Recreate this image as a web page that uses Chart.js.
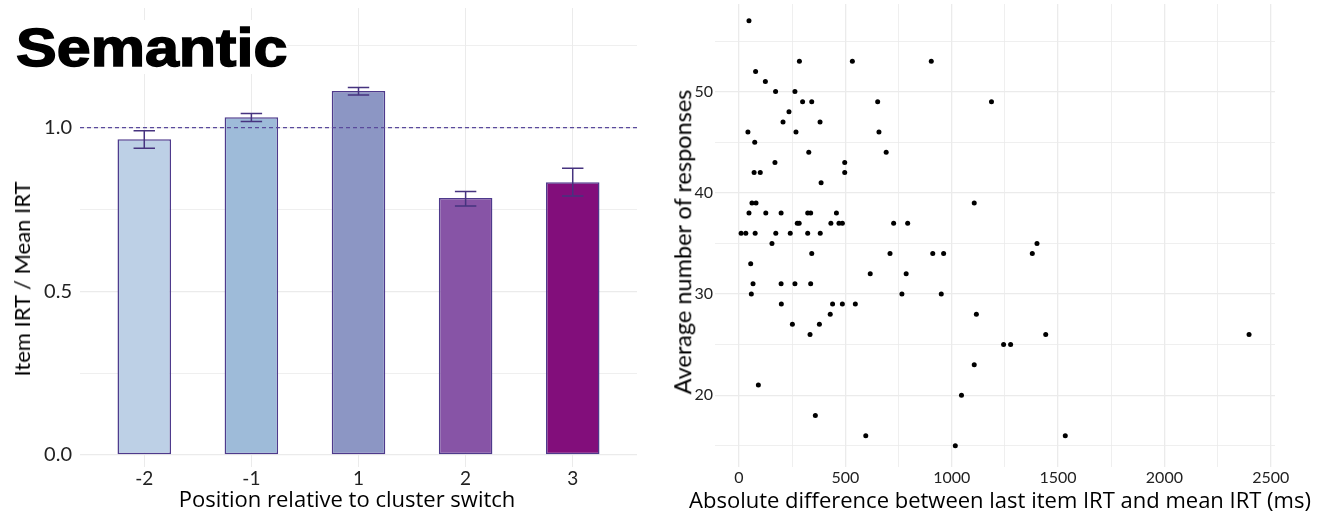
<!DOCTYPE html>
<html>
<head>
<meta charset="utf-8">
<script src="https://cdn.jsdelivr.net/npm/chart.js@4"></script>
<style>
  html, body { margin: 0; padding: 0; background: #fff; }
  #wrap { position: relative; width: 1328px; height: 518px; overflow: hidden; background: #fff; }
  canvas { position: absolute; top: 0; }
  .txt { position: absolute; font-family: Lato, "Open Sans", sans-serif; color: #000; white-space: nowrap; }
  #panelTitle {
    left: 16px; top: 20px; font-family: "Liberation Sans", Arial, sans-serif; font-weight: bold;
    font-size: 54px; line-height: 54px; color: #000; background: #fff;
    -webkit-text-stroke: 1.5px #000; transform: scaleX(1.13); transform-origin: 0 0;
  }
  .ytitle { transform: translate(-50%, -50%) rotate(-90deg); line-height: 1; }
  .xtitle { transform: translateX(-50%); font-family: "Open Sans", Lato, sans-serif; }
</style>
</head>
<body>
<div id="wrap">
  <canvas id="barChart" width="660" height="518" style="left:0"></canvas>
  <canvas id="scatterChart" width="668" height="518" style="left:660px"></canvas>
  <div id="panelTitle" class="txt">Semantic</div>
  <div class="txt ytitle" style="left:22px; top:279px; font-size:22px;">Item IRT / Mean IRT</div>
  <div class="txt xtitle" style="left:347px; top:487px; font-size:22px; line-height:22px;">Position relative to cluster switch</div>
  <div class="txt ytitle" style="left:683px; top:242px; font-size:23.5px;">Average number of responses</div>
  <div class="txt xtitle" style="left:1000px; top:488px; font-size:22px; line-height:22px;">Absolute difference between last item IRT and mean IRT (ms)</div>
</div>
<script>
// left panel: item IRT relative to mean IRT around a cluster switch
const positions = ['-2', '-1', '1', '2', '3'];
const irtRatio = [0.965, 1.032, 1.112, 0.785, 0.833];
const errLow = [0.937, 1.019, 1.100, 0.761, 0.791];
const errHigh = [0.991, 1.043, 1.123, 0.805, 0.876];
const barColors = ['#BDD0E6', '#9EBBD9', '#8C96C4', '#8754A6', '#820E7B'];
const ratioTicks = [0, 0.25, 0.5, 0.75, 1, 1.25];
const ratioLabels = [0, 0.5, 1];
const refLine = 1;

// right panel: scatter
const irtDiff = [
    47,
    284, 533, 904,
    78,
    124,
    172, 263,
    299, 342, 652, 1187,
    235,
    207, 381,
    42, 268, 658,
    74,
    328, 692,
    169, 497,
    71, 100, 497,
    386,
    61, 80, 1106,
    47, 126, 198, 323, 337, 458,
    274, 283, 432, 470, 486, 727, 793,
    10, 32, 76, 173, 241, 323, 382,
    155, 1401,
    342, 710, 911, 962, 1379,
    55,
    617, 786,
    66, 198, 263, 337,
    58, 766, 951,
    199, 440, 486, 547,
    429, 1116,
    251, 378,
    334, 1442, 2398,
    1244, 1277,
    1106,
    91,
    1046,
    359,
    596, 1534,
    1017
];
const avgResponses = [
    57,
    53, 53, 53,
    52,
    51,
    50, 50,
    49, 49, 49, 49,
    48,
    47, 47,
    46, 46, 46,
    45,
    44, 44,
    43, 43,
    42, 42, 42,
    41,
    39, 39, 39,
    38, 38, 38, 38, 38, 38,
    37, 37, 37, 37, 37, 37, 37,
    36, 36, 36, 36, 36, 36, 36,
    35, 35,
    34, 34, 34, 34, 34,
    33,
    32, 32,
    31, 31, 31, 31,
    30, 30, 30,
    29, 29, 29, 29,
    28, 28,
    27, 27,
    26, 26, 26,
    25, 25,
    23,
    21,
    20,
    18,
    16, 16,
    15
];
const diffTicks = [0, 250, 500, 750, 1000, 1250, 1500, 1750, 2000, 2250, 2500];
const diffLabels = [0, 500, 1000, 1500, 2000, 2500];
const respTicks = [15, 20, 25, 30, 35, 40, 45, 50, 55];
const respLabels = [20, 30, 40, 50];

const gridColor = '#EBEBEB';
const tickColor = '#222';

// drop the half-label padding Chart.js adds at the ends of an axis
function noEndPadding(axis) {
    axis.paddingTop = 0;
    axis.paddingBottom = 0;
}

const errorBars = {
    id: 'errorBars',
    afterDatasetsDraw(chart) {
        const ctx = chart.ctx;
        const x = chart.scales.x;
        const y = chart.scales.y;
        ctx.save();
        // dashed reference at 1.0
        ctx.strokeStyle = '#5A4A9C';
        ctx.lineWidth = 1.2;
        ctx.setLineDash([4, 3]);
        ctx.beginPath();
        ctx.moveTo(chart.chartArea.left, y.getPixelForValue(refLine));
        ctx.lineTo(chart.chartArea.right, y.getPixelForValue(refLine));
        ctx.stroke();
        ctx.setLineDash([]);
        ctx.strokeStyle = '#46337F';
        ctx.lineWidth = 1.5;
        positions.forEach((p, i) => {
            const cx = x.getPixelForValue(i + 1);
            const l = x.getPixelForValue(i + 0.9);
            const r = x.getPixelForValue(i + 1.1);
            const top = y.getPixelForValue(errHigh[i]);
            const bot = y.getPixelForValue(errLow[i]);
            ctx.beginPath();
            ctx.moveTo(cx, top); ctx.lineTo(cx, bot);
            ctx.moveTo(l, top); ctx.lineTo(r, top);
            ctx.moveTo(l, bot); ctx.lineTo(r, bot);
            ctx.stroke();
        });
        ctx.restore();
    }
};

new Chart(document.getElementById('barChart'), {
    type: 'bar',
    data: {
        datasets: [{
            data: positions.map((p, i) => ({ x: i + 1, y: irtRatio[i] })),
            backgroundColor: barColors,
            borderColor: '#4E3A8C',
            borderWidth: 1.5,
            borderSkipped: false,
            barPercentage: 0.5,
            categoryPercentage: 1
        }]
    },
    plugins: [errorBars],
    options: {
        responsive: false,
        animation: false,
        layout: { padding: { top: 8, right: 23, left: 0, bottom: 0 } },
        plugins: { legend: { display: false }, tooltip: { enabled: false } },
        scales: {
            x: {
                type: 'linear',
                min: 0.4,
                max: 5.6,
                offset: false,
                afterBuildTicks: axis => { axis.ticks = positions.map((p, i) => ({ value: i + 1 })); },
                afterFit: axis => { axis.height = 51; noEndPadding(axis); },
                ticks: {
                    callback: v => positions[v - 1],
                    color: tickColor,
                    font: { family: 'Lato', size: 19 },
                    padding: 0,
                    maxRotation: 0
                },
                grid: { color: gridColor, lineWidth: 1, drawTicks: false, offset: false },
                border: { display: false }
            },
            y: {
                min: -0.0367,
                max: 1.3657,
                afterBuildTicks: axis => { axis.ticks = ratioTicks.map(v => ({ value: v })); },
                afterFit: axis => { axis.width = 80; noEndPadding(axis); },
                ticks: {
                    callback: v => ratioLabels.includes(v) ? v.toFixed(1) : '',
                    color: tickColor,
                    font: { family: 'Lato', size: 20 },
                    padding: 8
                },
                grid: {
                    color: gridColor,
                    lineWidth: c => ratioLabels.includes(c.tick.value) ? 1.3 : 0.8,
                    drawTicks: false
                },
                border: { display: false }
            }
        }
    }
});

new Chart(document.getElementById('scatterChart'), {
    type: 'scatter',
    data: {
        datasets: [{
            data: irtDiff.map((d, i) => ({ x: d, y: avgResponses[i] })),
            backgroundColor: '#000',
            borderWidth: 0,
            pointRadius: 2.5
        }]
    },
    options: {
        responsive: false,
        animation: false,
        layout: { padding: { top: 0, right: 53, left: 0, bottom: 0 } },
        plugins: { legend: { display: false }, tooltip: { enabled: false } },
        scales: {
            x: {
                type: 'linear',
                min: -112.8,
                max: 2520,
                afterBuildTicks: axis => { axis.ticks = diffTicks.map(v => ({ value: v })); },
                afterFit: axis => { axis.height = 51; noEndPadding(axis); },
                ticks: {
                    callback: v => diffLabels.includes(v) ? String(v) : '',
                    color: tickColor,
                    font: { family: 'Lato', size: 16 },
                    padding: 1,
                    maxRotation: 0,
                    autoSkip: false
                },
                grid: {
                    color: gridColor,
                    lineWidth: c => diffLabels.includes(c.tick.value) ? 1.3 : 0.8,
                    drawTicks: false
                },
                border: { display: false }
            },
            y: {
                min: 12.9,
                max: 58.66,
                afterBuildTicks: axis => { axis.ticks = respTicks.map(v => ({ value: v })); },
                afterFit: axis => { axis.width = 55; noEndPadding(axis); },
                ticks: {
                    callback: v => respLabels.includes(v) ? String(v) : '',
                    color: tickColor,
                    font: { family: 'Lato', size: 16 },
                    padding: 2,
                    autoSkip: false
                },
                grid: {
                    color: gridColor,
                    lineWidth: c => respLabels.includes(c.tick.value) ? 1.3 : 0.8,
                    drawTicks: false
                },
                border: { display: false }
            }
        }
    }
});
</script>
</body>
</html>
